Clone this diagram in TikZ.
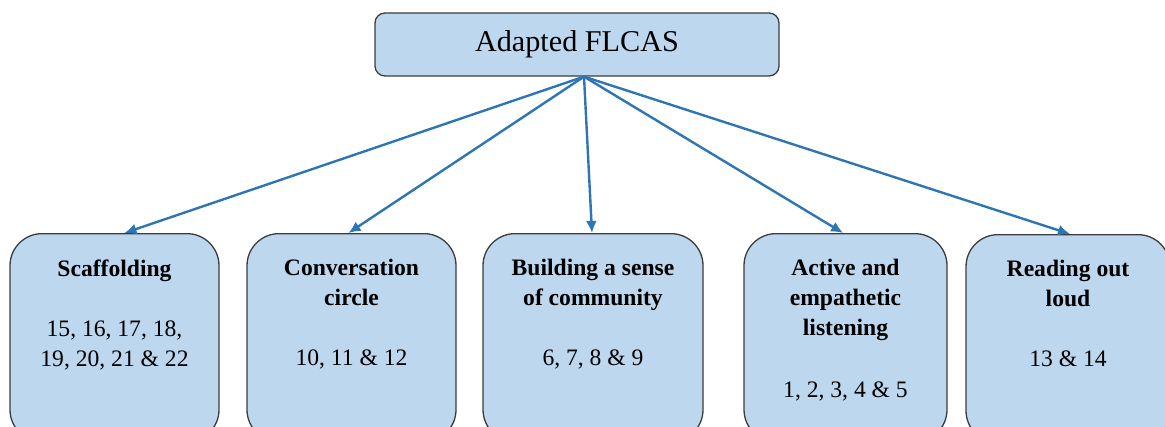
\documentclass[tikz,border=0pt]{standalone}
\usepackage{fontspec}
\setmainfont{Liberation Serif}
\usetikzlibrary{arrows.meta}
\definecolor{boxblue}{RGB}{189,215,238}
\definecolor{arrowblue}{RGB}{46,117,182}
\definecolor{edgegray}{RGB}{60,60,60}

\begin{document}
\begin{tikzpicture}[x=0.5pt, y=-0.5pt,
      topbox/.style={rectangle, rounded corners=5pt, draw=edgegray, line width=0.65pt,
                     fill=boxblue, minimum width=202pt, minimum height=31.5pt,
                     inner sep=0pt, font=\fontsize{15.1}{18}\selectfont},
      catbox/.style={rectangle, rounded corners=16pt, draw=edgegray, line width=0.65pt,
                     fill=boxblue, minimum height=104pt, anchor=north, inner sep=0pt},
      cattext/.style={anchor=north, align=center, inner sep=0pt,
                      font=\fontsize{11.8}{15}\selectfont},
      arr/.style={draw=arrowblue, line width=1.2pt, -{Latex[length=6pt,width=5.5pt]}}]
    \useasboundingbox (0,0) rectangle (1165,427);
    \clip (0,0) rectangle (1165,427);
    % top node
    \node[topbox] (top) at (577,44.5) {Adapted FLCAS};
    \coordinate (hub) at ([xshift=3.5pt]top.south);
    % categories
    \node[catbox, minimum width=104.5pt] (scaf) at (114.5,233) {};
    \node[catbox, minimum width=104.5pt] (conv) at (351.5,233) {};
    \node[catbox, minimum width=110pt]   (comm) at (593,233) {};
    \node[catbox, minimum width=101.5pt] (lis)  at (845.5,233) {};
    \node[catbox, minimum width=102pt]   (read) at (1068,234) {};
    \node[cattext] (scaftxt) at ([yshift=-13pt]scaf.north)
      {\textbf{Scaffolding} \\[15pt] 15, 16, 17, 18, \\ 19, 20, 21 \& 22};
    \node[cattext] (convtxt) at ([yshift=-13pt]conv.north)
      {\textbf{Conversation} \\ \textbf{circle} \\[15pt] 10, 11 \& 12};
    \node[cattext] (commtxt) at ([yshift=-13pt]comm.north)
      {\textbf{Building a sense} \\ \textbf{of community} \\[15pt] 6, 7, 8 \& 9};
    \node[cattext] (listxt) at ([yshift=-13pt]lis.north)
      {\textbf{Active and} \\ \textbf{empathetic} \\ \textbf{listening} \\[16pt] 1, 2, 3, 4 \& 5};
    \node[cattext] (readtxt) at ([yshift=-13pt]read.north)
      {\textbf{Reading out} \\ \textbf{loud} \\[15pt] 13 \& 14};
    % arrows
    \foreach \b/\s in {scaf/5pt, conv/-1.5pt, comm/-0.5pt, lis/-1.2pt, read/1pt}
      \draw[arr] (hub) -- ([xshift=\s]\b.north);
  \end{tikzpicture}
\end{document}
